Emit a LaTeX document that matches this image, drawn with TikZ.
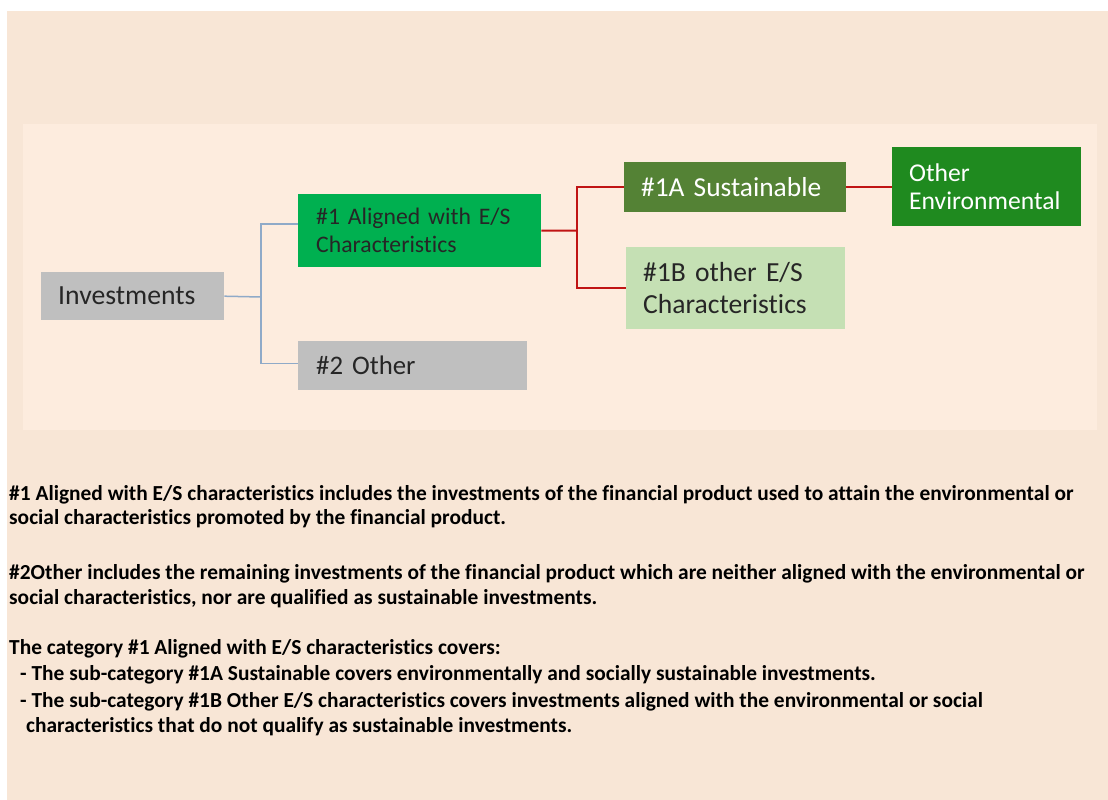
\documentclass[tikz,border=0pt]{standalone}
\usepackage{fontspec}
\setmainfont{Carlito}[Ligatures=NoCommon]
\definecolor{outerbg}{RGB}{248,230,214}
\definecolor{innerbg}{RGB}{253,236,222}
\definecolor{boxgrey}{RGB}{191,191,191}
\definecolor{green1}{RGB}{0,176,80}
\definecolor{green1a}{RGB}{84,130,53}
\definecolor{green1b}{RGB}{197,224,180}
\definecolor{greenoe}{RGB}{31,138,31}
\definecolor{connblue}{RGB}{143,170,200}
\definecolor{connred}{RGB}{192,20,20}
\definecolor{txtdark}{RGB}{38,38,38}
\tikzset{
  box/.style={draw=none, rectangle, anchor=north west, align=left, inner xsep=17pt, inner ysep=0pt, text=txtdark},
  bluecon/.style={draw=connblue, line width=1.5pt},
  redcon/.style={draw=connred, line width=2pt},
  note/.style={anchor=base west, inner sep=0pt, font=\fontsize{21.4}{25}\selectfont\bfseries, text=black}
}
\begin{document}
\begin{tikzpicture}[x=1pt,y=-1pt]
\useasboundingbox (0,0) rectangle (1108,800);
\fill[white] (0,0) rectangle (1108,800);
\fill[outerbg] (7,11) rectangle (1108,800);
\fill[innerbg] (23,124) rectangle (1097,430);

\node[box, fill=boxgrey, minimum width=183pt, minimum height=48pt, text width=149pt, font=\fontsize{27.7}{31}\selectfont] (inv) at (41,272) {Investments};
\node[box, fill=green1, minimum width=243pt, minimum height=73pt, text width=207pt, inner xsep=18pt, font=\fontsize{23.7}{28}\selectfont] (a1) at (298,194) {\#1 Aligned with E/S\\Characteristics};
\node[box, fill=boxgrey, minimum width=229pt, minimum height=49pt, text width=193pt, inner xsep=18pt, font=\fontsize{26.8}{30}\selectfont] (o2) at (298,341) {\#2 Other};
\node[box, fill=green1a, minimum width=222pt, minimum height=50pt, text width=188pt, text=white, font=\fontsize{27.4}{30}\selectfont] (s1a) at (624,162) {\#1A Sustainable};
\node[box, fill=green1b, minimum width=219pt, minimum height=82pt, text width=185pt, font=\fontsize{27.6}{32}\selectfont] (s1b) at (626,247) {\#1B other E/S\\Characteristics};
\node[box, fill=greenoe, minimum width=189pt, minimum height=79pt, text width=155pt, text=white, font=\fontsize{25.6}{28}\selectfont] (oe) at (892,147) {Other\\Environmental};

\coordinate (jb) at (261,297);
\coordinate (jr) at (577,230.5);
\draw[bluecon] (inv.east) -- (jb);
\draw[bluecon] ([yshift=6.5pt]a1.west) -| (jb) |- ([yshift=2pt]o2.west);
\draw[redcon] (a1.east) -- (jr);
\draw[redcon] (s1a.west) -| (jr) |- (s1b.west);
\draw[redcon] (s1a.east) -- (oe.west |- s1a.east);

\node[note] (t1) at (9,500) {\#1 Aligned with E/S characteristics includes the investments of the financial product used to attain the environmental or};
\node[note] (t2) at (9,524) {social characteristics promoted by the financial product.};
\node[note] (t3) at (9,579) {\#2Other includes the remaining investments of the financial product which are neither aligned with the environmental or};
\node[note] (t4) at (9,604) {social characteristics, nor are qualified as sustainable investments.};
\node[note] (t5) at (9,654) {The category \#1 Aligned with E/S characteristics covers:};
\node[note] (t6) at (20,680) {- The sub-category \#1A Sustainable covers environmentally and socially sustainable investments.};
\node[note] (t7) at (20,707) {- The sub-category \#1B Other E/S characteristics covers investments aligned with the environmental or social};
\node[note] (t8) at (26,732) {characteristics that do not qualify as sustainable investments.};
\end{tikzpicture}
\end{document}
